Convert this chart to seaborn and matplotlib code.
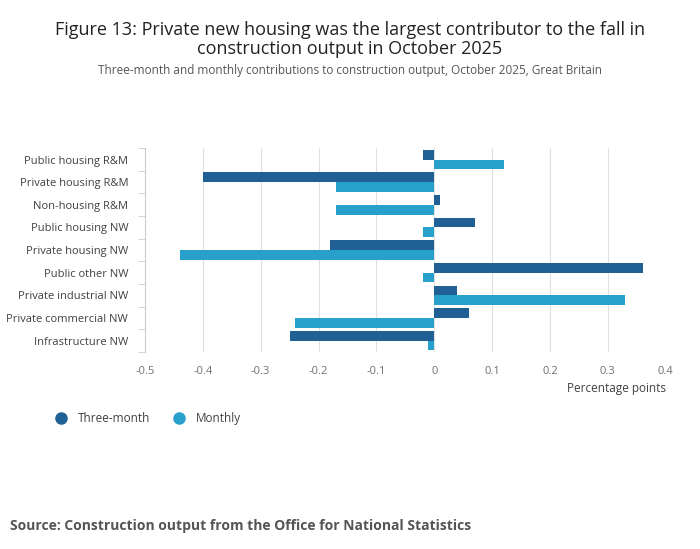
import pandas as pd
import matplotlib.pyplot as plt
import seaborn as sns
from matplotlib.lines import Line2D

categories = ["Public housing R&M", "Private housing R&M", "Non-housing R&M",
              "Public housing NW", "Private housing NW", "Public other NW",
              "Private industrial NW", "Private commercial NW", "Infrastructure NW"]
three_month = [-0.02, -0.40, 0.01, 0.07, -0.18, 0.36, 0.04, 0.06, -0.25]
monthly = [0.12, -0.17, -0.17, -0.02, -0.44, -0.02, 0.33, -0.24, -0.01]

df = pd.DataFrame({"cat": categories * 2,
                   "val": three_month + monthly,
                   "series": ["Three-month"] * 9 + ["Monthly"] * 9})

sns.set_style("white")
plt.rcParams['font.family'] = ['Open Sans', 'DejaVu Sans']
fig = plt.figure(figsize=(7, 5.49), dpi=100)
ax = fig.add_axes([0.207, 0.359, 0.744, 0.371])
pal = {"Three-month": "#206095", "Monthly": "#27a0cc"}
sns.barplot(data=df, y="cat", x="val", hue="series", palette=pal, orient="h",
            width=0.86, ax=ax, legend=False, saturation=1, linewidth=0)
ax.set_xlim(-0.5, 0.4)
ax.set_xticks([-0.5, -0.4, -0.3, -0.2, -0.1, 0, 0.1, 0.2, 0.3, 0.4])
ax.set_xticklabels(["-0.5", "-0.4", "-0.3", "-0.2", "-0.1", "0", "0.1", "0.2", "0.3", "0.4"])
ax.grid(axis="x", color="#e0e0e0", lw=0.8)
ax.set_axisbelow(True)
for s in ["top", "right", "bottom"]:
    ax.spines[s].set_visible(False)
ax.spines["left"].set_color("#cccccc")
ax.set_yticks([i + 0.5 for i in range(-1, 9)], minor=True)
ax.tick_params(axis="y", which="minor", length=5, color="#cccccc", left=True)
ax.tick_params(axis="y", which="major", length=0, labelsize=8, labelcolor="#414042", pad=12)
ax.tick_params(axis="x", length=0, labelsize=8, labelcolor="#707070", pad=10)
ax.set_ylabel("")
ax.set_xlabel("Percentage points", fontsize=8.5, color="#414042", loc="right")

fig.text(0.5, 0.962, "Figure 13: Private new housing was the largest contributor to the fall in\nconstruction output in October 2025",
         ha="center", va="top", fontsize=13, color="#222222", linespacing=1.1)
fig.text(0.5, 0.883, "Three-month and monthly contributions to construction output, October 2025, Great Britain",
         ha="center", va="top", fontsize=8.5, color="#555555")
handles = [Line2D([], [], marker="o", ls="", ms=8, color=pal[k]) for k in pal]
fig.legend(handles, list(pal), loc="upper left", bbox_to_anchor=(0.055, 0.268),
           frameon=False, ncol=2, fontsize=8.5, handletextpad=0.4, columnspacing=1.5,
           labelcolor="#414042")
fig.text(0.014, 0.035, "Source: Construction output from the Office for National Statistics",
         fontsize=10, fontweight="bold", color="#555555")
fig.savefig("out.png", dpi=100)
